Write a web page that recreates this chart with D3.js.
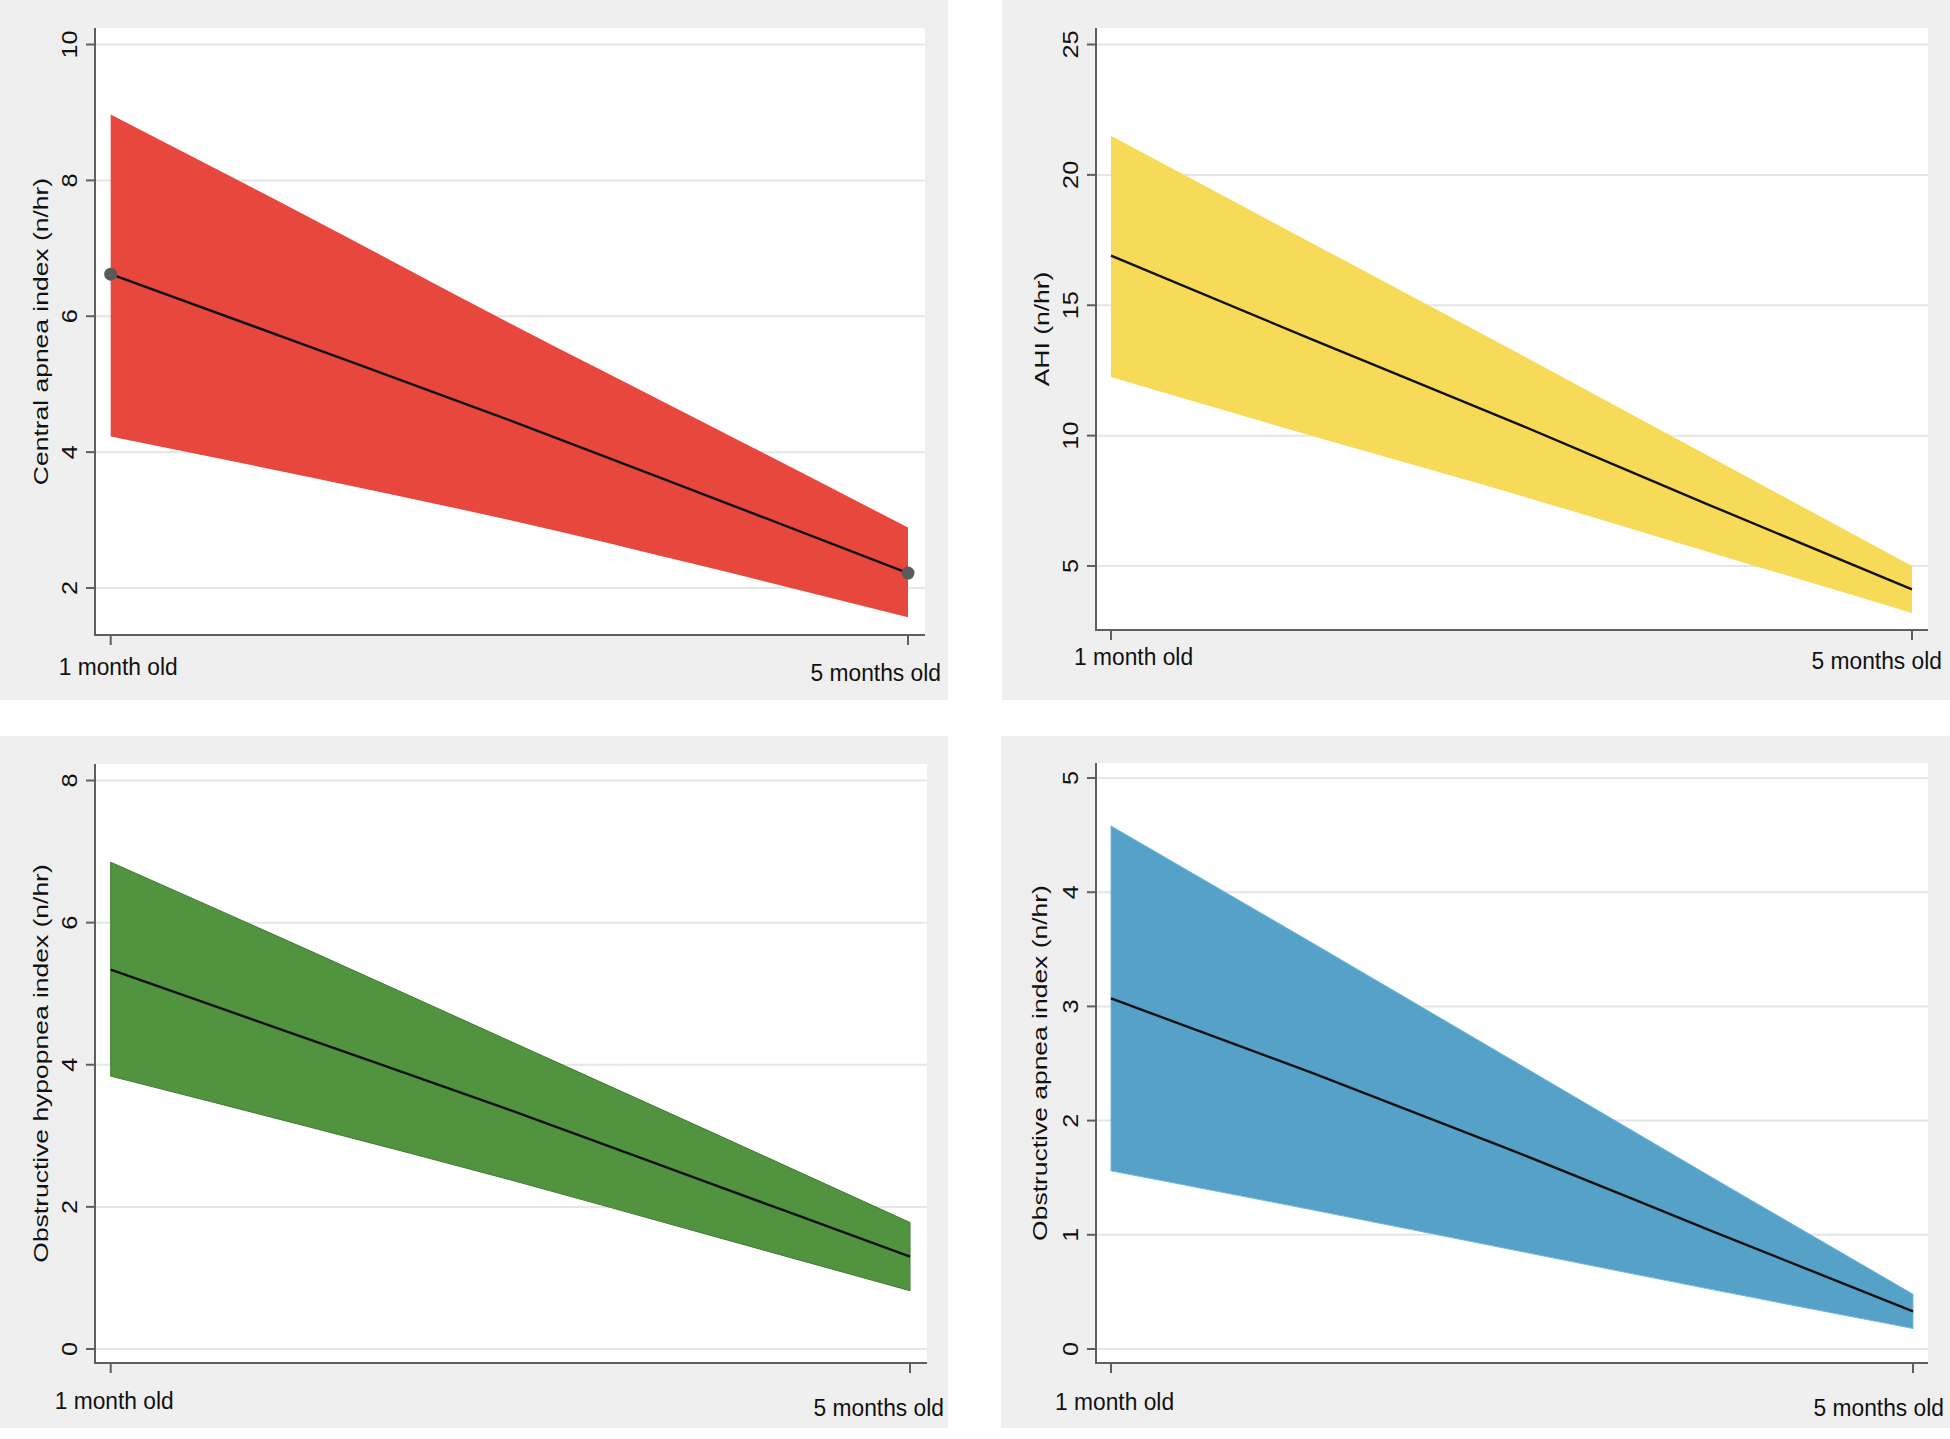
<!DOCTYPE html>
<html>
<head>
<meta charset="utf-8">
<script src="https://cdn.jsdelivr.net/npm/d3@7"></script>
<style>
  html, body { margin: 0; padding: 0; background: #ffffff; }
  svg { display: block; }
  text { font-family: "Liberation Sans", Arial, Helvetica, sans-serif; fill: #111111; }
</style>
</head>
<body>
<svg id="chart" width="1950" height="1439"></svg>
<script>
// ---------------- DATA ----------------
const ages = [1, 2, 3, 4, 5];
const xTickAges = [1, 5];
const xTickLabels = ["1 month old", "5 months old"];

// Central apnea index
const caiUpper = [8.97, 7.45, 5.90, 4.40, 2.89];
const caiMean  = [6.62, 5.55, 4.47, 3.35, 2.22];
const caiLower = [4.23, 3.63, 3.00, 2.30, 1.57];
const caiTicks = [2, 4, 6, 8, 10];

// AHI
const ahiUpper = [21.5, 17.4, 13.3, 9.15, 5.0];
const ahiMean  = [16.9, 13.7, 10.55, 7.3, 4.1];
const ahiLower = [12.25, 10.0, 7.8, 5.5, 3.2];
const ahiTicks = [5, 10, 15, 20, 25];

// Obstructive hypopnea index
const ohiUpper = [6.85, 5.60, 4.33, 3.06, 1.78];
const ohiMean  = [5.34, 4.35, 3.36, 2.33, 1.30];
const ohiLower = [3.84, 3.12, 2.38, 1.60, 0.82];
const ohiTicks = [0, 2, 4, 6, 8];

// Obstructive apnea index
const oaiUpper = [4.58, 3.56, 2.53, 1.50, 0.48];
const oaiMean  = [3.07, 2.42, 1.74, 1.03, 0.33];
const oaiLower = [1.56, 1.22, 0.87, 0.52, 0.18];
const oaiTicks = [0, 1, 2, 3, 4, 5];

const titles = ["Central apnea index (n/hr)", "AHI (n/hr)", "Obstructive hypopnea index (n/hr)", "Obstructive apnea index (n/hr)"];

// ---------------- LAYOUT (styling only) ----------------
const panels = [
  { title: titles[0], upper: caiUpper, mean: caiMean, lower: caiLower, ticks: caiTicks,
    bg: [0, 0, 948, 700], plot: [95, 28, 925, 635],
    yPix: [588, 44.5], xPix: [110.7, 908],
    fill: "#e8473e", edge: null, dots: true,
    titleX: 48, lab0: [-52, 40], lab1: [33, 46] },
  { title: titles[1], upper: ahiUpper, mean: ahiMean, lower: ahiLower, ticks: ahiTicks,
    bg: [1002, 0, 1950, 700], plot: [1096, 28, 1928, 630],
    yPix: [566, 44.5], xPix: [1111, 1912],
    fill: "#f7da58", edge: null, dots: false,
    titleX: 1049, lab0: [-37, 35], lab1: [30, 39] },
  { title: titles[2], upper: ohiUpper, mean: ohiMean, lower: ohiLower, ticks: ohiTicks,
    bg: [0, 736, 948, 1428], plot: [95, 764, 927, 1363],
    yPix: [1349, 780.5], xPix: [110.7, 910],
    fill: "#529340", edge: "#3e7a30", dots: false,
    titleX: 48, lab0: [-56, 46], lab1: [34, 53] },
  { title: titles[3], upper: oaiUpper, mean: oaiMean, lower: oaiLower, ticks: oaiTicks,
    bg: [1001, 736, 1950, 1428], plot: [1096, 763, 1928, 1363],
    yPix: [1349, 778], xPix: [1111, 1913],
    fill: "#56a1c7", edge: "#6fb9dc", dots: false,
    titleX: 1047, lab0: [-56, 47], lab1: [31, 53] }
];

const svg = d3.select("#chart");

function addText(g, x, y, str, opts) {
  const rot = opts.rotate || 0, sx = opts.sx || 1;
  return g.append("text")
    .attr("transform", `translate(${x},${y}) rotate(${rot}) scale(${sx},1)`)
    .attr("text-anchor", opts.anchor || "start")
    .style("font-size", opts.size + "px")
    .text(str);
}

panels.forEach(p => {
  const g = svg.append("g");
  const [bx0, by0, bx1, by1] = p.bg;
  const [px0, py0, px1, py1] = p.plot;

  g.append("rect").attr("x", bx0).attr("y", by0).attr("width", bx1 - bx0).attr("height", by1 - by0).attr("fill", "#efefef");
  g.append("rect").attr("x", px0).attr("y", py0).attr("width", px1 - px0).attr("height", py1 - py0).attr("fill", "#ffffff");

  const tMin = d3.min(p.ticks), tMax = d3.max(p.ticks);
  const y = d3.scaleLinear().domain([tMin, tMax]).range(p.yPix);
  const x = d3.scaleLinear().domain([1, 5]).range(p.xPix);

  // gridlines
  g.selectAll(".grid").data(p.ticks).enter().append("line")
    .attr("x1", px0).attr("x2", px1)
    .attr("y1", d => y(d)).attr("y2", d => y(d))
    .attr("stroke", "#e6e6e6").attr("stroke-width", 2);

  const data = ages.map((a, i) => ({ a, u: p.upper[i], m: p.mean[i], l: p.lower[i] }));

  const area = d3.area().curve(d3.curveMonotoneX).x(d => x(d.a)).y0(d => y(d.l)).y1(d => y(d.u));
  g.append("path").datum(data).attr("d", area).attr("fill", p.fill)
    .attr("stroke", p.edge || "none").attr("stroke-width", p.edge ? 1 : 0);

  const line = d3.line().curve(d3.curveMonotoneX).x(d => x(d.a)).y(d => y(d.m));
  g.append("path").datum(data).attr("d", line).attr("fill", "none")
    .attr("stroke", "#111111").attr("stroke-width", 2.4);

  if (p.dots) {
    g.selectAll(".dot").data([data[0], data[data.length - 1]]).enter().append("circle")
      .attr("cx", d => x(d.a)).attr("cy", d => y(d.m)).attr("r", 6.5).attr("fill", "#5a5a5a");
  }

  // axes lines
  g.append("line").attr("x1", px0).attr("x2", px0).attr("y1", py0).attr("y2", py1 + 1)
    .attr("stroke", "#5f5f5f").attr("stroke-width", 2);
  g.append("line").attr("x1", px0 - 1).attr("x2", px1).attr("y1", py1).attr("y2", py1)
    .attr("stroke", "#5f5f5f").attr("stroke-width", 2);

  // y ticks + labels
  p.ticks.forEach(t => {
    g.append("line").attr("x1", px0 - 9).attr("x2", px0).attr("y1", y(t)).attr("y2", y(t))
      .attr("stroke", "#5f5f5f").attr("stroke-width", 2);
    addText(g, px0 - 18, y(t), String(t), { rotate: -90, anchor: "middle", size: 22, sx: 1.15 });
  });

  // x ticks + labels
  xTickAges.forEach((a, i) => {
    g.append("line").attr("x1", x(a)).attr("x2", x(a)).attr("y1", py1).attr("y2", py1 + 10)
      .attr("stroke", "#5f5f5f").attr("stroke-width", 2);
    const off = i === 0 ? p.lab0 : p.lab1;
    addText(g, x(a) + off[0], py1 + off[1], xTickLabels[i],
      { anchor: i === 0 ? "start" : "end", size: 24, sx: 0.95 });
  });

  // y title
  addText(g, p.titleX, (py0 + py1) / 2, p.title, { rotate: -90, anchor: "middle", size: 21, sx: 1.26 });
});
</script>
</body>
</html>
